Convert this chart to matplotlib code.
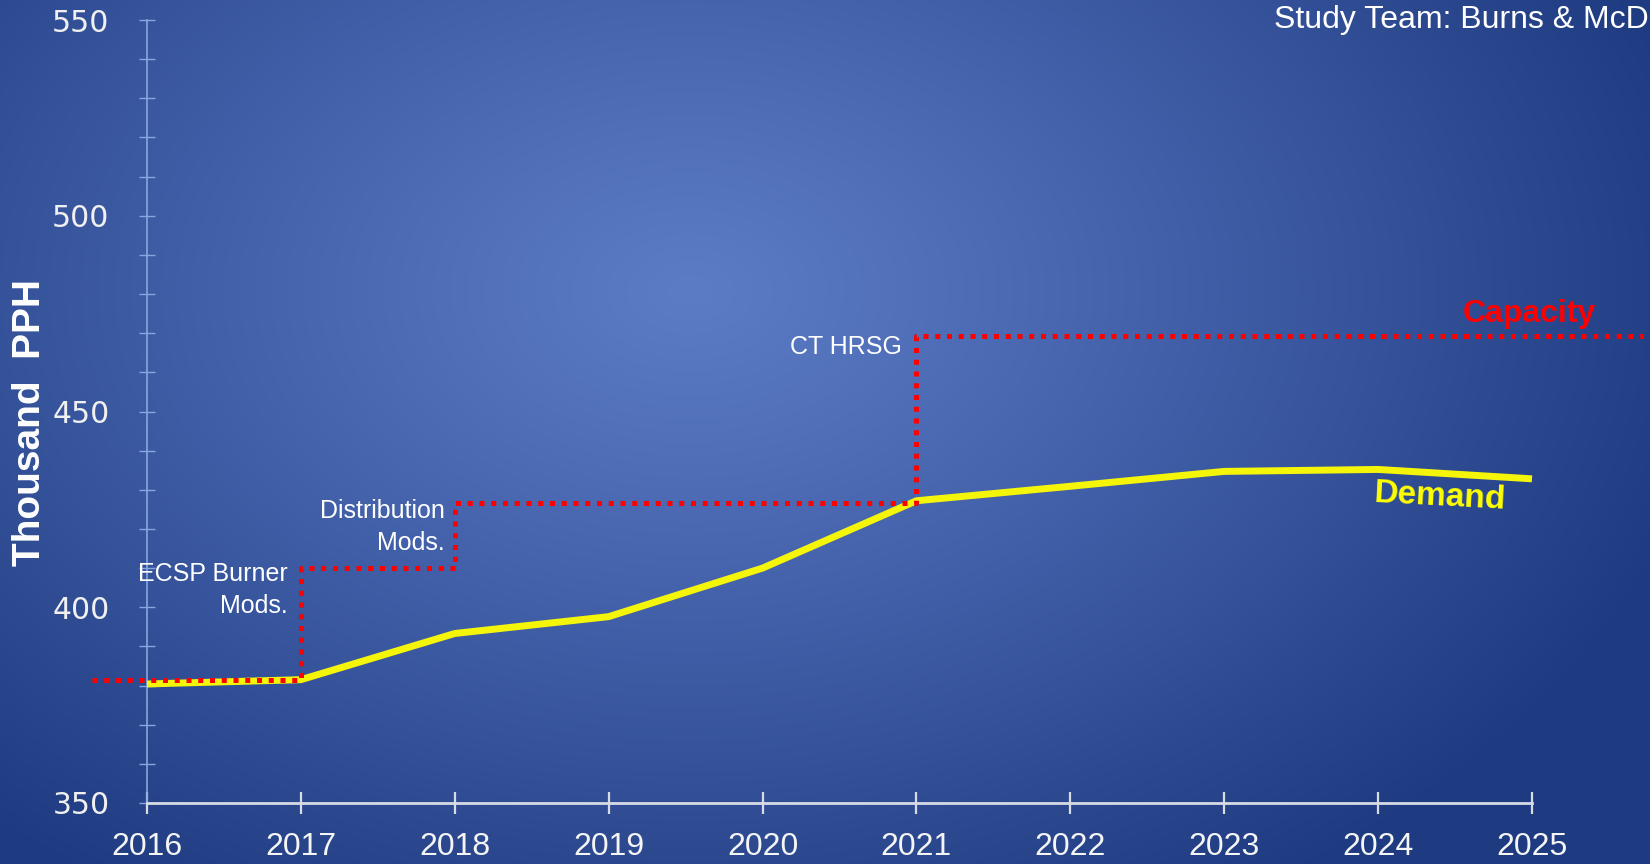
import numpy as np
import matplotlib
matplotlib.use('Agg')
import matplotlib.pyplot as plt
from matplotlib.ticker import MultipleLocator

# ---- data ----
years = [2016, 2017, 2018, 2019, 2020, 2021, 2022, 2023, 2024, 2025]
demand = [380.4, 381.5, 393.3, 397.6, 410.0, 427.2, 430.9, 434.7, 435.2, 432.8]
cap_x = [2015.64, 2017, 2018, 2021, 2025.72]
cap_y = [381.5, 410.0, 426.6, 469.4, 469.4]
y_ticks = [350, 400, 450, 500, 550]
year_labels = [str(y) for y in years]

W, H = 1650, 864
fig = plt.figure(figsize=(W / 100, H / 100), dpi=100)

# ---- background radial gradient ----
bg = fig.add_axes([0, 0, 1, 1], zorder=-10)
yy, xx = np.mgrid[0:H, 0:W]
cx, cy = 690, 290
d = np.sqrt(((xx - cx) / 1050.0) ** 2 + ((yy - cy) / 720.0) ** 2)
t = np.clip(d, 0, 1) ** 1.1
center = np.array([92, 124, 198]) / 255.0
edge = np.array([30, 58, 128]) / 255.0
img = center[None, None, :] * (1 - t[..., None]) + edge[None, None, :] * t[..., None]
bg.imshow(img, aspect='auto', extent=[0, 1, 0, 1], origin='upper')
bg.axis('off')

# ---- main axes ----
left = 147 / W
bottom = 1 - 803 / H
width = (1532 - 147) / W
height = (803 - 20) / H
ax = fig.add_axes([left, bottom, width, height])
ax.set_facecolor('none')
ax.set_xlim(2016, 2025)
ax.set_ylim(350, 550)

ax.plot(years, demand, color='#f5f50a', lw=5.0, solid_capstyle='butt',
        solid_joinstyle='round', zorder=3, clip_on=False)
ax.plot(cap_x, cap_y, color='#ff0000', lw=3.6, drawstyle='steps-post',
        linestyle=(0, (1.0, 1.35)), dash_capstyle='butt', zorder=4, clip_on=False)

for s in ['top', 'right']:
    ax.spines[s].set_visible(False)
ax.spines['left'].set_color('#86a6e0')
ax.spines['left'].set_linewidth(1.2)
ax.spines['bottom'].set_color('#d6dbe6')
ax.spines['bottom'].set_linewidth(2)

ax.set_yticks(y_ticks)
ax.yaxis.set_minor_locator(MultipleLocator(10))
ax.tick_params(axis='y', which='both', direction='inout', length=12, width=1.0,
               color='#86a6e0', labelcolor='#f0f0f0', labelsize=21.5, pad=21)
for lab in ax.get_yticklabels():
    lab.set_family('DejaVu Sans')
ax.set_xticks(years)
ax.set_xticklabels(year_labels)
ax.tick_params(axis='x', which='major', direction='inout', length=16, width=1.6,
               color='#d6dbe6', labelcolor='#f5f5f5', labelsize=23, pad=13)
for lab in ax.get_xticklabels():
    lab.set_family(['Liberation Sans', 'DejaVu Sans'])

# ---- annotations ----
ann_kw = dict(color='white', fontsize=18, family=['Liberation Sans', 'DejaVu Sans'],
              ha='right', multialignment='right', linespacing=1.42)
ax.text(2016.917, 411.6, 'ECSP Burner\nMods.', va='top', **ann_kw)
ax.text(2017.936, 427.6, 'Distribution\nMods.', va='top', **ann_kw)
ax.text(2020.904, 466.4, 'CT HRSG', va='center', **ann_kw)

ax.text(2024.98, 475.0, 'Capacity', color='#ff0000', fontsize=23, fontweight='bold',
        family=['Liberation Sans', 'DejaVu Sans'], ha='center', va='center')
ax.text(2024.40, 428.2, 'Demand', color='#ffff00', fontsize=24, fontweight='bold',
        family=['Liberation Sans', 'DejaVu Sans'], ha='center', va='center', rotation=-3)

fig.text(30 / W, 1 - 422 / H, 'Thousand  PPH', rotation=90, color='white',
         fontsize=28, fontweight='bold', family=['Liberation Sans', 'DejaVu Sans'],
         ha='center', va='center')
fig.text(1 - 1 / W, 1 - 20 / H, 'Study Team: Burns & McD', color='white', fontsize=23,
         family=['Liberation Sans', 'DejaVu Sans'], ha='right', va='center')

fig.savefig('out.png', dpi=100)
